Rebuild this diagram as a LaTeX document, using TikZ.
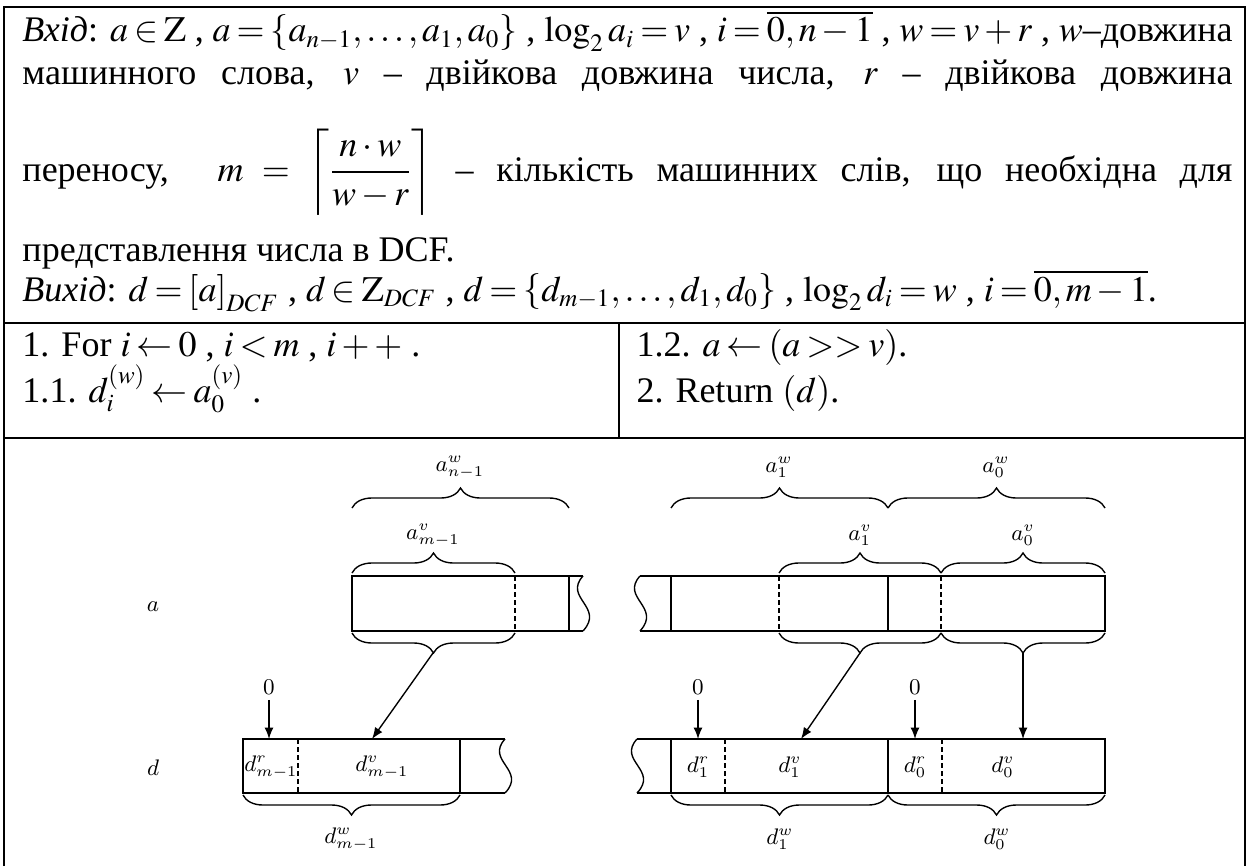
\documentclass[tikz,border=0pt]{standalone}
\usepackage[no-math]{fontspec}
\setmainfont{Liberation Serif}
\usetikzlibrary{arrows.meta,decorations.pathreplacing,positioning}
\DeclareMathVersion{tms}
\SetSymbolFont{operators}{tms}{OT1}{ztmcm}{m}{n}
\SetSymbolFont{letters}{tms}{OML}{ztmcm}{m}{it}
\SetSymbolFont{symbols}{tms}{OMS}{ztmcm}{m}{n}
\SetSymbolFont{largesymbols}{tms}{OMX}{ztmcm}{m}{n}
\newcommand{\fullline}[1]{\hbox to 484pt{#1}}
\newcommand{\hdrfont}{\fontsize{14.4}{17}\selectfont\mathversion{tms}%
  \thickmuskip=3mu plus 2mu\relax\medmuskip=2.5mu plus 1mu\relax\thinmuskip=2mu\relax}
\begin{document}
\begin{tikzpicture}[x=0.4pt, y=-0.4pt,
    >={Latex[length=4.6pt,width=3.6pt]},
    frame/.style={draw, line width=1pt},
    cell/.style={draw, line width=0.55pt},
    dsh/.style={draw, line width=0.55pt, dash pattern=on 2pt off 1.2pt},
    brup/.style={draw, line width=0.55pt, decorate, decoration={brace, amplitude=8pt}},
    brdn/.style={draw, line width=0.55pt, decorate, decoration={brace, mirror, amplitude=8pt}},
    hdr/.style={anchor=base west, inner sep=0pt, font=\hdrfont},
    lbl/.style={inner sep=0pt, font=\fontsize{8.8}{10}\selectfont},
    zero/.style={lbl, inner sep=2pt},
    norm/.style={->, draw, line width=0.55pt}]
\useasboundingbox (0,0) rectangle (1257,866);

\draw [frame] (4,866) -- (4,7) -- (1245,7) -- (1245,866);
\draw [frame] (4,323) -- (1245,323);
\draw [frame] (4,438) -- (1245,438);
\draw [frame] (619,323) -- (619,438);

\node [hdr] (in1) at (22,42) {\fullline{\textit{Вхід}: $a\in\mathrm{Z}$ , $a=\left\{a_{n-1},\ldots,a_1,a_0\right\}$ , $\log_2 a_i=v$ , $i=\overline{0,n-1}$ , $w=v+r$ , $w$–довжина}};
\node [hdr] (in2) at (22,85) {\fullline{машинного слова, $v$ – двійкова довжина числа, $r$ – двійкова довжина}};
\node [hdr] (in3) at (22,181) {\fullline{переносу, \ $m=\left\lceil\displaystyle\frac{n\cdot w}{w-r}\right\rceil$ – кількість машинних слів, що необхідна для}};
\node [hdr] (in4) at (22,261) {представлення числа в DCF.};
\node [hdr] (out) at (22,301) {\textit{Вихід}: $d=\bigl[a\bigr]_{DCF}$ , $d\in\mathrm{Z}_{DCF}$ , $d=\left\{d_{m-1},\ldots,d_1,d_0\right\}$ , $\log_2 d_i=w$ , $i=\overline{0,m-1}$.};
\node [hdr] (st1) at (22,356) {1. For $i\leftarrow 0$ , $i<m$ , $i++$ .};
\node [hdr] (st11) at (22,402) {1.1. $d_i^{(w)}\leftarrow a_0^{(v)}$ .};
\node [hdr] (st12) at (636,356) {1.2. $a\leftarrow\bigl(a>>v\bigr)$.};
\node [hdr] (st2) at (636,402) {2. Return $\bigl(d\bigr)$.};

\node [lbl] (la) at (153,607) {$a$};
\node [lbl] (ld) at (153,768) {$d$};

\draw [cell] (583,576) -- (352,576) -- (352,631) -- (583,631);
\draw [cell] (569,576) -- (569,631);
\draw [dsh] (515,576) -- (515,631);
\draw [cell] (583,576) .. controls (563,598) and (605,607) .. (583,631);
\draw [cell] (640,576) -- (1105,576) -- (1105,631) -- (640,631);
\draw [cell] (640,576) .. controls (620,598) and (662,607) .. (640,631);
\draw [cell] (671,576) -- (671,631);
\draw [dsh] (779,576) -- (779,631);
\draw [cell] (888,576) -- (888,631);
\draw [dsh] (941,576) -- (941,631);

\draw [brup] (352,508) -- (569,508);
\draw [brup] (671,508) -- (888,508);
\draw [brup] (888,508) -- (1105,508);
\node [lbl] (law3) at (460,467) {$a^w_{n-1}$};
\node [lbl] (law1) at (779,467) {$a^w_1$};
\node [lbl] (law0) at (996,467) {$a^w_0$};
\draw [brup] (352,573) -- (515,573);
\draw [brup] (779,573) -- (941,573);
\draw [brup] (941,573) -- (1105,573);
\node [lbl] (lav3) at (433,535) {$a^v_{m-1}$};
\node [lbl] (lav1) at (860,535) {$a^v_1$};
\node [lbl] (lav0) at (1023,535) {$a^v_0$};
\draw [brdn] (352,633) -- (515,633);
\draw [brdn] (779,633) -- (941,633);
\draw [brdn] (941,633) -- (1105,633);
\coordinate (cv3) at (433,653);
\coordinate (cv1) at (860,653);
\coordinate (cv0) at (1023,653);

\draw [cell] (505,739) -- (243,739) -- (243,793) -- (505,793);
\draw [cell] (460,739) -- (460,793);
\draw [dsh] (298,739) -- (298,793);
\draw [cell] (505,739) .. controls (485,761) and (527,770) .. (505,793);
\draw [cell] (637,739) -- (1105,739) -- (1105,793) -- (637,793);
\draw [cell] (637,739) .. controls (617,761) and (659,770) .. (637,793);
\draw [cell] (671,739) -- (671,793);
\draw [dsh] (725,739) -- (725,793);
\draw [cell] (888,739) -- (888,793);
\draw [dsh] (942,739) -- (942,793);
\node [lbl] (ldr3) at (271,767) {$d^r_{m-1}$};
\node [lbl] (ldv3) at (382,767) {$d^v_{m-1}$};
\node [lbl] (ldr1) at (698,767) {$d^r_1$};
\node [lbl] (ldv1) at (790,767) {$d^v_1$};
\node [lbl] (ldr0) at (915,767) {$d^r_0$};
\node [lbl] (ldv0) at (1003,767) {$d^v_0$};
\draw [brdn] (243,795) -- (460,795);
\draw [brdn] (671,795) -- (888,795);
\draw [brdn] (888,795) -- (1105,795);
\node [lbl] (ldw3) at (351,839) {$d^w_{m-1}$};
\node [lbl] (ldw1) at (780,839) {$d^w_1$};
\node [lbl] (ldw0) at (997,839) {$d^w_0$};

\node [zero] (z3) at (269,687) {$0$};
\node [zero] (z1) at (698,687) {$0$};
\node [zero] (z0) at (915,687) {$0$};
\coordinate (zt3) at (269,739);
\coordinate (zt1) at (698,739);
\coordinate (zt0) at (915,739);
\coordinate (dv3) at (372,739);
\coordinate (dv1) at (801,739);
\coordinate (dv0) at (1023,739);
\draw [norm] (z3) -- (zt3);
\draw [norm] (z1) -- (zt1);
\draw [norm] (z0) -- (zt0);
\draw [norm] (cv3) -- (dv3);
\draw [norm] (cv1) -- (dv1);
\draw [norm] (cv0) -- (dv0);

\end{tikzpicture}
\end{document}
